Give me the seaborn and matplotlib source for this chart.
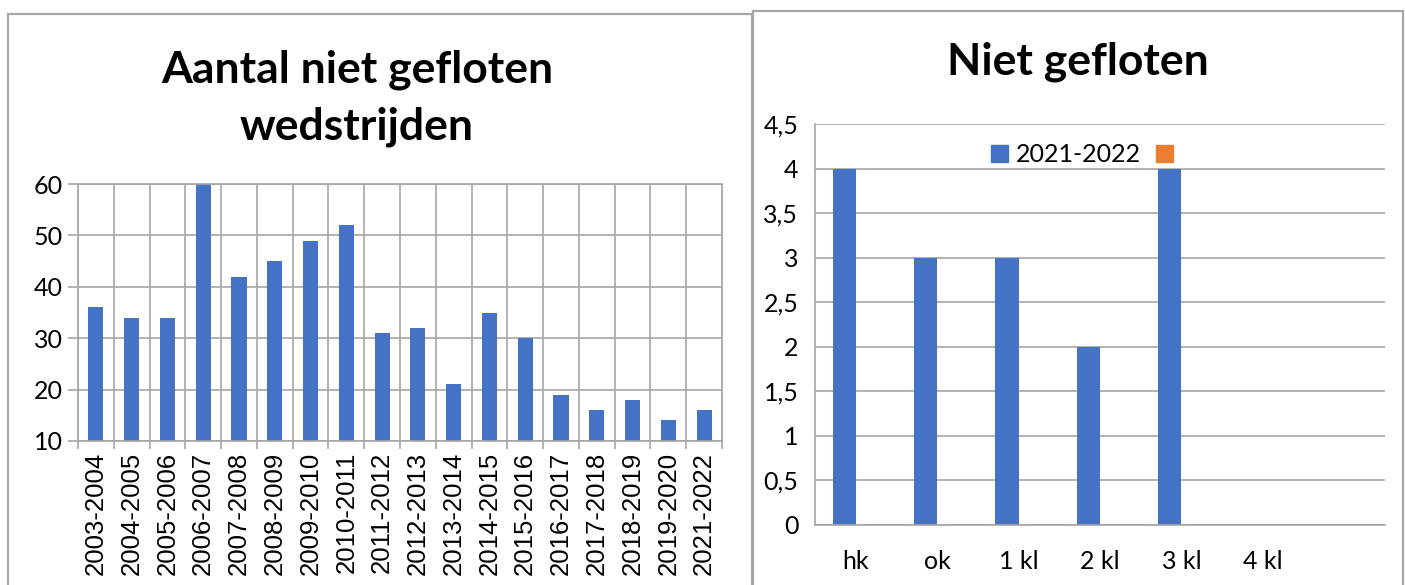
import matplotlib
matplotlib.use("Agg")
import matplotlib.pyplot as plt
import matplotlib.patches as mpatches
from matplotlib.ticker import FixedLocator, FuncFormatter
import seaborn as sns
import pandas as pd

# ---------------- data ----------------
seasons = ["2003-2004", "2004-2005", "2005-2006", "2006-2007", "2007-2008",
           "2008-2009", "2009-2010", "2010-2011", "2011-2012", "2012-2013",
           "2013-2014", "2014-2015", "2015-2016", "2016-2017", "2017-2018",
           "2018-2019", "2019-2020", "2021-2022"]
not_refereed = [36, 34, 34, 60, 42, 45, 49, 52, 31, 32, 21, 35, 30, 19, 16, 18, 14, 16]

classes = ["hk", "ok", "1 kl", "2 kl", "3 kl", "4 kl", " "]
series_2122 = [4, 3, 3, 2, 4, 0, 0]
series_other = [0, 0, 0, 0, 0, 0, 0]
series_names = ["2021-2022", ""]

left_title = "Aantal niet gefloten\nwedstrijden"
right_title = "Niet gefloten"

BLUE = "#4472C4"
ORANGE = "#ED7D31"
GRID = "#A6A6A6"

sns.set_theme(style="white")
plt.rcParams["font.family"] = ["Lato", "DejaVu Sans"]
plt.rcParams["text.color"] = "black"
plt.rcParams["xtick.labelcolor"] = "black"
plt.rcParams["ytick.labelcolor"] = "black"

W, H = 1405, 585
fig = plt.figure(figsize=(W / 100, H / 100), dpi=100)

def px_axes(x0, y0, x1, y1):
    return fig.add_axes([x0 / W, (H - y1) / H, (x1 - x0) / W, (y1 - y0) / H])

# panel borders
fig.patches.append(mpatches.Rectangle((8 / W, -0.05), (752 - 8) / W, 1.05 - 14 / H,
                                      transform=fig.transFigure, fill=False,
                                      edgecolor=GRID, linewidth=1.6))
fig.patches.append(mpatches.Rectangle((753 / W, -0.05), (1403 - 753) / W, 1.05 - 11 / H,
                                      transform=fig.transFigure, fill=False,
                                      edgecolor=GRID, linewidth=1.6))

# ---------------- left chart ----------------
df_left = pd.DataFrame({"season": seasons, "count": not_refereed})
ax1 = px_axes(78, 184, 722, 441)
sns.barplot(data=df_left, x="season", y="count", color=BLUE, width=0.42,
            saturation=1, ax=ax1, order=seasons, linewidth=0)
ax1.set_ylim(10, 60)
ax1.set_yticks(range(10, 61, 10))
ax1.set_xlim(-0.5, len(seasons) - 0.5)
ax1.xaxis.set_minor_locator(FixedLocator([i - 0.5 for i in range(len(seasons) + 1)]))
ax1.grid(True, axis="y", which="major", color=GRID, linewidth=1.2)
ax1.grid(True, axis="x", which="minor", color=GRID, linewidth=1.2)
ax1.set_axisbelow(True)
for s in ax1.spines.values():
    s.set_color(GRID)
    s.set_linewidth(1.2)
ax1.tick_params(axis="x", which="major", length=0, pad=8)
ax1.tick_params(axis="x", which="minor", length=6, width=1.2, color=GRID, direction="out", bottom=True)
ax1.tick_params(axis="y", length=7, width=1.2, color=GRID, direction="out", left=True, pad=4)
ax1.set_xticks(range(len(seasons)))
ax1.set_xticklabels(seasons, rotation=90, fontsize=18.5, family="Liberation Sans")
for lab in ax1.get_yticklabels():
    lab.set_fontsize(18)
ax1.set_xlabel("")
ax1.set_ylabel("")
fig.text(357 / W, 1 - 98 / H, left_title, ha="center", va="center", fontsize=32,
         fontweight="bold", linespacing=1.5, color="black")

# ---------------- right chart ----------------
df_right = pd.DataFrame({
    "klasse": classes * 2,
    "aantal": series_2122 + series_other,
    "seizoen": [series_names[0]] * len(classes) + [series_names[1]] * len(classes),
})
ax2 = px_axes(815, 124, 1385, 525)
sns.barplot(data=df_right, x="klasse", y="aantal", hue="seizoen", order=classes,
            hue_order=series_names, palette=[BLUE, ORANGE], width=0.57,
            saturation=1, ax=ax2, linewidth=0)
ax2.set_ylim(0, 4.5)
ax2.set_yticks([i * 0.5 for i in range(10)])
ax2.yaxis.set_major_formatter(FuncFormatter(lambda v, p: (f"{v:g}").replace(".", ",")))
ax2.grid(True, axis="y", color=GRID, linewidth=1.2)
ax2.set_axisbelow(True)
for k, s in ax2.spines.items():
    s.set_color(GRID)
    s.set_linewidth(1.2)
ax2.spines["right"].set_visible(False)
ax2.spines["top"].set_visible(False)
ax2.tick_params(axis="x", length=0, pad=18, labelsize=18)
ax2.tick_params(axis="y", length=0, pad=12, labelsize=18)
ax2.set_xlabel("")
ax2.set_ylabel("")
handles = [mpatches.Patch(color=BLUE), mpatches.Patch(color=ORANGE)]
ax2.legend(handles, series_names, loc="center", bbox_to_anchor=(0.475, 0.923),
           ncol=2, frameon=False, fontsize=18, handlelength=0.7, handleheight=0.7,
           handletextpad=0.3, columnspacing=0.6, borderaxespad=0)
fig.text(1078 / W, 1 - 62 / H, right_title, ha="center", va="center", fontsize=32,
         fontweight="bold", color="black")

fig.savefig("out.png", dpi=100)
